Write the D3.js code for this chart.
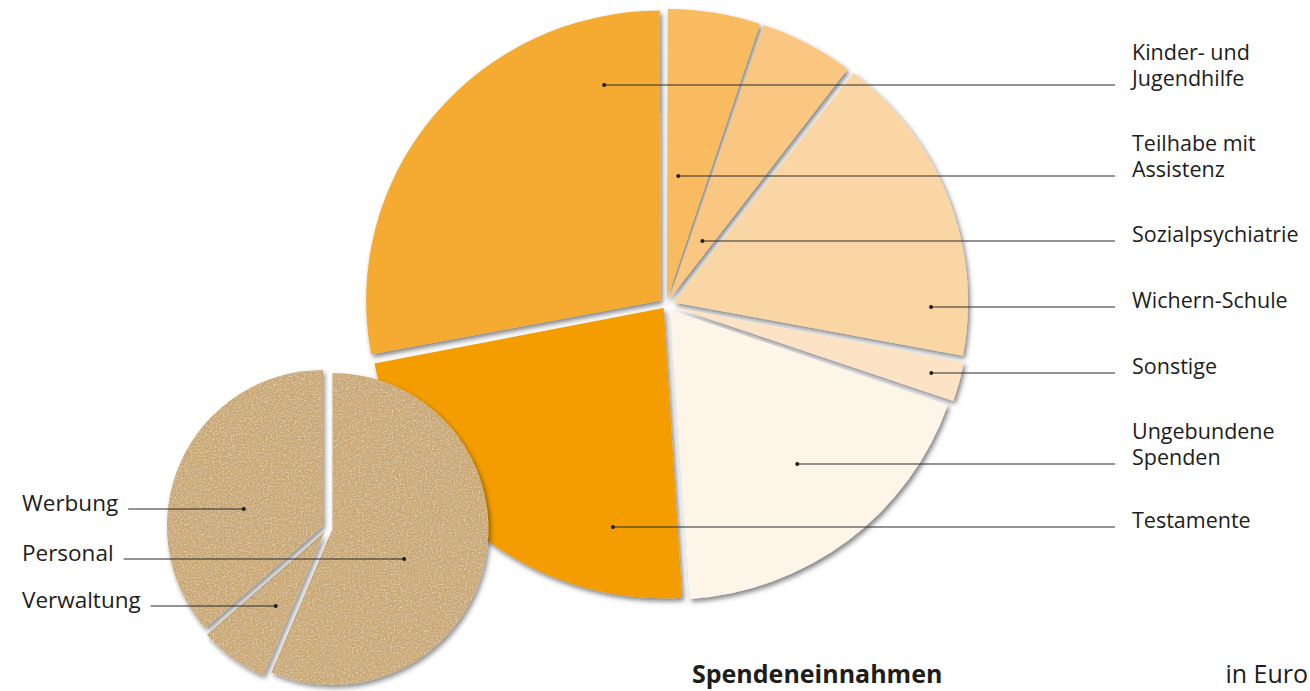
<html>
<head>
<meta charset="utf-8">
<script src="https://d3js.org/d3.v7.min.js"></script>
<style>
  * { margin: 0; padding: 0; }
  body { background: #fff; font-family: 'Open Sans', sans-serif; }
  .lbl { fill: #1d1d1b; }
  .lead { stroke: #2b2b2b; stroke-width: 1.2; }
</style>
</head>
<body>
<div id="chart"></div>
<script>
// Spendeneinnahmen (Anteile in %), im Uhrzeigersinn ab 12 Uhr
var einnahmenKat = ['Teilhabe mit Assistenz', 'Sozialpsychiatrie', 'Wichern-Schule', 'Sonstige',
  'Ungebundene Spenden', 'Testamente', 'Kinder- und Jugendhilfe'];
var einnahmenWert = [5.1, 5.2, 17.6, 2.2, 18.7, 23.1, 28.1];
var einnahmenLabel = [['Teilhabe mit', 'Assistenz'], ['Sozialpsychiatrie'], ['Wichern-Schule'], ['Sonstige'],
  ['Ungebundene', 'Spenden'], ['Testamente'], ['Kinder- und', 'Jugendhilfe']];

// Ausgaben (Anteile in %)
var ausgabenKat = ['Personal', 'Verwaltung', 'Werbung'];
var ausgabenWert = [56.4, 7.2, 36.4];

// layout
var width = 1310, height = 691;
var big = { cx: 666, cy: 305, r: 294.5, sy: 0.985, pad: 0.006, explode: [6, 6, 8, 9, 6, 4, 7] };
var small = { cx: 327.5, cy: 528, r: 156, sy: 1, pad: 0, explode: [5, 5, 5] };
var colors = ['#F8BB5E', '#F9C781', '#FBD6A5', '#FDE3C5', '#FEF5E9', '#F39D00', '#F5AB33'];
// leader rows (y) and dot distance from centre as fraction of radius
var bigRowY = [176, 241, 307, 373, 464, 527, 85];
var bigDotK = [0.44, 0.25, 0.90, 0.93, 0.70, 0.775, 0.776];
var smallRowY = [559, 606, 509];
var smallDotK = [0.53, 0.60, 0.55];

var svg = d3.select('#chart').append('svg')
  .attr('width', width).attr('height', height);

var defs = svg.append('defs');
var sh = defs.append('filter').attr('id', 'shadow')
  .attr('x', '-10%').attr('y', '-10%').attr('width', '120%').attr('height', '120%');
sh.append('feDropShadow').attr('dx', 2).attr('dy', 3).attr('stdDeviation', 2.5)
  .attr('flood-color', '#000').attr('flood-opacity', 0.5);

// paper texture for the small pie
var pf = defs.append('filter').attr('id', 'paper')
  .attr('x', '-10%').attr('y', '-10%').attr('width', '120%').attr('height', '120%');
pf.append('feTurbulence').attr('type', 'fractalNoise').attr('baseFrequency', 0.6)
  .attr('numOctaves', 4).attr('seed', 11).attr('result', 'noise');
pf.append('feColorMatrix').attr('in', 'noise').attr('type', 'matrix')
  .attr('values', '0 0 0 0 0.87  0 0 0 0 0.77  0 0 0 0 0.61  1.5 0 0 0 -0.68')
  .attr('result', 'light');
pf.append('feColorMatrix').attr('in', 'noise').attr('type', 'matrix')
  .attr('values', '0 0 0 0 0.70  0 0 0 0 0.58  0 0 0 0 0.38  0 -1.2 0 0 0.52')
  .attr('result', 'dark');
pf.append('feComposite').attr('in', 'light').attr('in2', 'SourceGraphic').attr('operator', 'atop').attr('result', 'a');
pf.append('feComposite').attr('in', 'dark').attr('in2', 'a').attr('operator', 'atop').attr('result', 'tex');
pf.append('feGaussianBlur').attr('in', 'SourceAlpha').attr('stdDeviation', 2.5).attr('result', 'blur');
pf.append('feOffset').attr('in', 'blur').attr('dx', 2).attr('dy', 3).attr('result', 'off');
pf.append('feComponentTransfer').attr('in', 'off').attr('result', 'sh')
  .append('feFuncA').attr('type', 'linear').attr('slope', 0.45);
var mg = pf.append('feMerge');
mg.append('feMergeNode').attr('in', 'sh');
mg.append('feMergeNode').attr('in', 'tex');

var pie = d3.pie().sort(null).value(function (d) { return d; });

function drawPie(cfg, values, fill, filter) {
  var arc = d3.arc().innerRadius(0).outerRadius(cfg.r).padRadius(cfg.r);
  var arcs = pie.padAngle(cfg.pad)(values);
  var g = svg.append('g')
    .attr('transform', 'translate(' + cfg.cx + ',' + cfg.cy + ') scale(1,' + cfg.sy + ')');
  g.selectAll('path').data(arcs).enter().append('path')
    .attr('d', arc)
    .attr('fill', function (d, i) { return fill(i); })
    .attr('filter', 'url(#' + filter + ')')
    .attr('transform', function (d, i) {
      var a = (d.startAngle + d.endAngle) / 2, e = cfg.explode[i];
      return 'translate(' + (Math.sin(a) * e) + ',' + (-Math.cos(a) * e) + ')';
    });
  return arcs;
}

var bigArcs = drawPie(big, einnahmenWert, function (i) { return colors[i]; }, 'shadow');
var smallArcs = drawPie(small, ausgabenWert, function () { return '#C9A774'; }, 'paper');

function dotX(cfg, d, y, k) {
  var a = (d.startAngle + d.endAngle) / 2;
  var dy = y - cfg.cy;
  var dx = Math.sqrt(Math.max(0, Math.pow(k * cfg.r, 2) - dy * dy));
  return cfg.cx + (Math.sin(a) >= 0 ? dx : -dx);
}

// right hand labels
var labelX = 1132, lineEnd = 1115, lineH = 26.5;
bigArcs.forEach(function (d, i) {
  var y = bigRowY[i];
  var x = dotX(big, d, y, bigDotK[i]);
  svg.append('line').attr('class', 'lead')
    .attr('x1', x).attr('y1', y).attr('x2', lineEnd).attr('y2', y);
  svg.append('circle').attr('cx', x).attr('cy', y).attr('r', 2).attr('fill', '#1d1d1b');
  var lines = einnahmenLabel[i];
  var t = svg.append('text').attr('class', 'lbl').attr('font-size', 21.5);
  lines.forEach(function (s, j) {
    t.append('tspan').attr('x', labelX)
      .attr('y', y + 1 - (lines.length - 1 - j) * lineH).text(s);
  });
});

// left hand labels
smallArcs.forEach(function (d, i) {
  var y = smallRowY[i];
  var x = dotX(small, d, y, smallDotK[i]);
  var t = svg.append('text').attr('class', 'lbl').attr('font-size', 22.5)
    .attr('x', 22).attr('y', y + 2).text(ausgabenKat[i]);
  var tw = t.node().getComputedTextLength();
  svg.append('line').attr('class', 'lead')
    .attr('x1', 22 + tw + 10).attr('y1', y).attr('x2', x).attr('y2', y);
  svg.append('circle').attr('cx', x).attr('cy', y).attr('r', 2).attr('fill', '#1d1d1b');
});

svg.append('text').attr('class', 'lbl').attr('x', 692).attr('y', 683)
  .attr('font-size', 25).attr('font-weight', 700).text('Spendeneinnahmen');
svg.append('text').attr('class', 'lbl').attr('x', 1308).attr('y', 683)
  .attr('text-anchor', 'end').attr('font-size', 25).text('in Euro');
</script>
</body>
</html>
